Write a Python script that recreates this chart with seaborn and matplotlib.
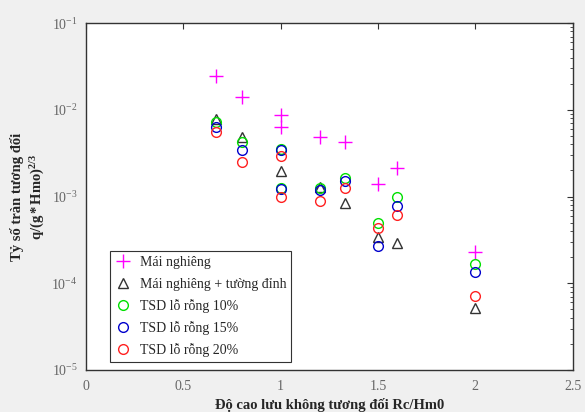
import matplotlib
matplotlib.use("Agg")
import matplotlib.pyplot as plt
import seaborn as sns
import numpy as np
import pandas as pd
from matplotlib.ticker import LogLocator, FixedLocator, NullFormatter

sns.set_style("white")
plt.rcParams['font.family'] = ['Liberation Serif', 'DejaVu Serif']
plt.rcParams['mathtext.fontset'] = 'custom'
plt.rcParams['mathtext.rm'] = 'Liberation Serif'
plt.rcParams['mathtext.it'] = 'Liberation Serif:italic'
plt.rcParams['mathtext.bf'] = 'Liberation Serif:bold'

# Data
x_mai = [0.67, 0.8, 1.0, 1.0, 1.2, 1.33, 1.5, 1.6, 2.0]
y_mai = [0.0245, 0.0141, 0.0088, 0.0064, 0.0049, 0.0043, 0.00138, 0.00215, 0.00023]

x_tuong = [0.67, 0.8, 1.0, 1.2, 1.33, 1.5, 1.6, 2.0]
y_tuong = [0.0079, 0.0049, 0.00195, 0.0013, 0.00085, 0.00034, 0.00029, 0.000052]

x_tsd = [0.67, 0.8, 1.0, 1.0, 1.2, 1.33, 1.5, 1.6, 2.0]
y_tsd10 = [0.0072, 0.0043, 0.0035, 0.00125, 0.00125, 0.00165, 0.00049, 0.00098, 0.000165]
y_tsd15 = [0.0063, 0.0034, 0.0034, 0.00123, 0.00120, 0.00150, 0.00027, 0.00078, 0.000135]
y_tsd20 = [0.0056, 0.0025, 0.0029, 0.00098, 0.00088, 0.00127, 0.00043, 0.00062, 0.000071]

labels = ["Mái nghiêng", "Mái nghiêng + tường đỉnh", "TSD lỗ rỗng 10%",
          "TSD lỗ rỗng 15%", "TSD lỗ rỗng 20%"]
x_ticks = [0, 0.5, 1, 1.5, 2, 2.5]
x_ticklabels = ["0", "0.5", "1", "1.5", "2", "2.5"]

fig = plt.figure(figsize=(5.85, 4.12), dpi=100)
fig.patch.set_facecolor("#f0f0f0")
ax = fig.add_axes([0.147, 0.102, 0.832, 0.842])
ax.set_facecolor("white")

series = [
    (x_mai, y_mai, labels[0], '+', '#ff00ff', 10),
    (x_tuong, y_tuong, labels[1], '^', '#333333', 7),
    (x_tsd, y_tsd10, labels[2], 'o', '#00e000', 7),
    (x_tsd, y_tsd15, labels[3], 'o', '#0000cc', 7),
    (x_tsd, y_tsd20, labels[4], 'o', '#ff2020', 7),
]
for xs, ys, lab, mk, col, ms in series:
    df = pd.DataFrame({"x": xs, "y": ys})
    sns.lineplot(data=df, x="x", y="y", ax=ax, estimator=None, sort=False,
                 linestyle='', marker=mk, markersize=ms, color=col,
                 markerfacecolor='none', markeredgecolor=col,
                 markeredgewidth=1.0, label=lab)

ax.set_yscale("log")
ax.set_ylim(1e-5, 1e-1)
ax.set_xlim(0, 2.5)
ax.xaxis.set_major_locator(FixedLocator(x_ticks))
ax.set_xticklabels(x_ticklabels)
ax.yaxis.set_major_locator(LogLocator(base=10, numticks=10))
ax.yaxis.set_minor_locator(LogLocator(base=10, subs=np.arange(2, 10), numticks=20))
ax.yaxis.set_minor_formatter(NullFormatter())
ax.tick_params(which='both', direction='in', top=True, right=True,
               labelcolor='#666666', labelsize=10, color='#333333')
ax.tick_params(which='major', length=4, width=0.8)
ax.tick_params(axis='x', which='major', pad=7)
ax.tick_params(axis='y', which='major', pad=6)
ax.tick_params(which='minor', length=2, width=0.6)
for sp in ax.spines.values():
    sp.set_color('#333333')
    sp.set_linewidth(1.0)
    sp.set_visible(True)

ax.set_xlabel("Độ cao lưu không tương đối Rc/Hm0", fontsize=10.5, fontweight='bold', labelpad=4)
ax.set_ylabel("Tỷ số tràn tương đối\n$\\mathbf{q/(g*Hmo)^{2/3}}$", fontsize=10.5,
              fontweight='bold', labelpad=3, linespacing=1.35)

leg = ax.legend(loc='lower left', bbox_to_anchor=(0.049, 0.023), borderaxespad=0,
                fontsize=10, frameon=True, fancybox=False, framealpha=1,
                edgecolor='#333333', handlelength=1.2, handletextpad=0.6,
                borderpad=0.35, labelspacing=0.6)
leg.get_frame().set_linewidth(0.8)

fig.savefig("out.png", dpi=100, facecolor=fig.get_facecolor())
